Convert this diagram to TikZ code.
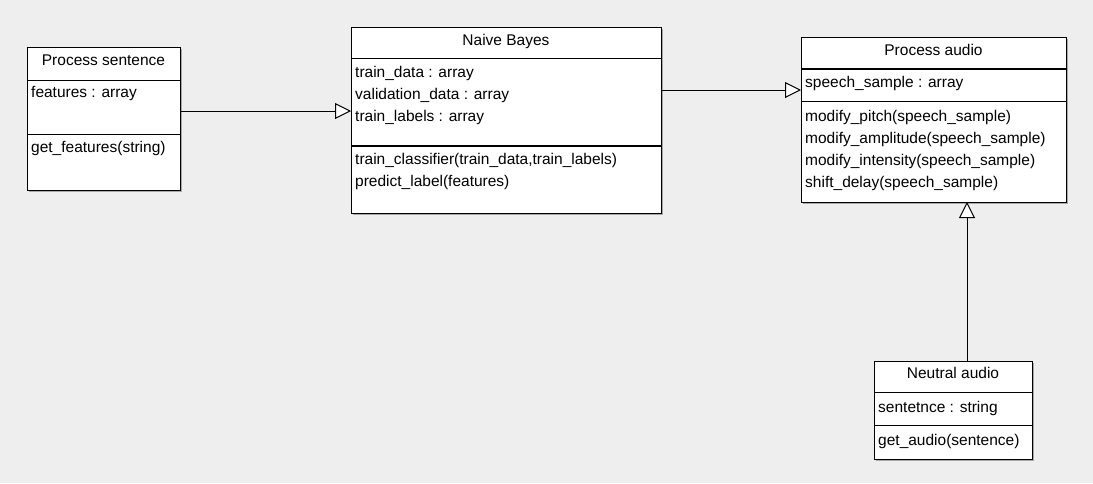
\documentclass[tikz,border=0pt]{standalone}
\usepackage{fontspec}
\setmainfont{Liberation Sans}
\usetikzlibrary{arrows.meta,shadows}
\definecolor{bg}{HTML}{EEEEEE}
\definecolor{shd}{HTML}{A8A8A8}
\tikzset{
  umlbox/.style={draw=black, line width=1pt, fill=white, rectangle, inner sep=0pt, outer sep=0pt, anchor=north west,
    drop shadow={shadow xshift=2pt, shadow yshift=-2pt, fill=shd, opacity=1}},
  sep/.style={line width=1pt},
  thicksep/.style={line width=2pt},
  txt/.style={anchor=base west, inner sep=0pt, font=\fontsize{15.5}{18}\selectfont},
  ttl/.style={anchor=base, inner sep=0pt, font=\fontsize{15.5}{18}\selectfont},
  gen/.style={line width=1pt, -{Triangle[length=16pt, width=16pt, fill=white, line width=1pt]}},
}
\begin{document}
\begin{tikzpicture}[x=1pt, y=-1pt]
\fill[bg] (0,0) rectangle (1093,483);
\useasboundingbox (0,0) rectangle (1093,483);

% Process sentence
\node[umlbox, minimum width=153pt, minimum height=143pt] (ps) at (27,47) {};
\draw[sep] (ps.west |- 0,80) -- (ps.east |- 0,80);
\draw[sep] (ps.west |- 0,134) -- (ps.east |- 0,134);
\node[ttl] (pst) at (103.5,65) {Process sentence};
\node[txt] (ps1) at (31,97) {features : array};
\node[txt] (ps2) at (31,152) {get\_features(string)};

% Naive Bayes
\node[umlbox, minimum width=310pt, minimum height=186pt] (nb) at (351,27) {};
\draw[sep] (nb.west |- 0,58) -- (nb.east |- 0,58);
\draw[thicksep] (nb.west |- 0,146) -- (nb.east |- 0,146);
\node[ttl] (nbt) at (506,45) {Naive Bayes};
\node[txt] (nb1) at (355,77) {train\_data : array};
\node[txt] (nb2) at (355,99) {validation\_data : array};
\node[txt] (nb3) at (355,121) {train\_labels : array};
\node[txt] (nb4) at (355,164) {train\_classifier(train\_data,train\_labels)};
\node[txt] (nb5) at (355,186) {predict\_label(features)};

% Process audio
\node[umlbox, minimum width=265pt, minimum height=165pt] (pa) at (801,37) {};
\draw[thicksep] (pa.west |- 0,69) -- (pa.east |- 0,69);
\draw[sep] (pa.west |- 0,101) -- (pa.east |- 0,101);
\node[ttl] (pat) at (933.5,55) {Process audio};
\node[txt] (pa1) at (805,87.5) {speech\_sample : array};
\node[txt] (pa2) at (805,121) {modify\_pitch(speech\_sample)};
\node[txt] (pa3) at (805,143) {modify\_amplitude(speech\_sample)};
\node[txt] (pa4) at (805,165) {modify\_intensity(speech\_sample)};
\node[txt] (pa5) at (805,187) {shift\_delay(speech\_sample)};

% Neutral audio
\node[umlbox, minimum width=158pt, minimum height=98pt] (na) at (874,361) {};
\draw[sep] (na.west |- 0,392) -- (na.east |- 0,392);
\draw[sep] (na.west |- 0,425) -- (na.east |- 0,425);
\node[ttl] (nat) at (953,378) {Neutral audio};
\node[txt] (na1) at (878,412) {sentetnce : string};
\node[txt] (na2) at (878,445) {get\_audio(sentence)};

% Connectors
\draw[gen] (ps.east |- 0,111) -- (nb.west |- 0,111);
\draw[gen] (nb.east |- 0,90) -- (pa.west |- 0,90);
\draw[gen] (na.north -| 967,0) -- (pa.south -| 967,0);
\end{tikzpicture}
\end{document}
